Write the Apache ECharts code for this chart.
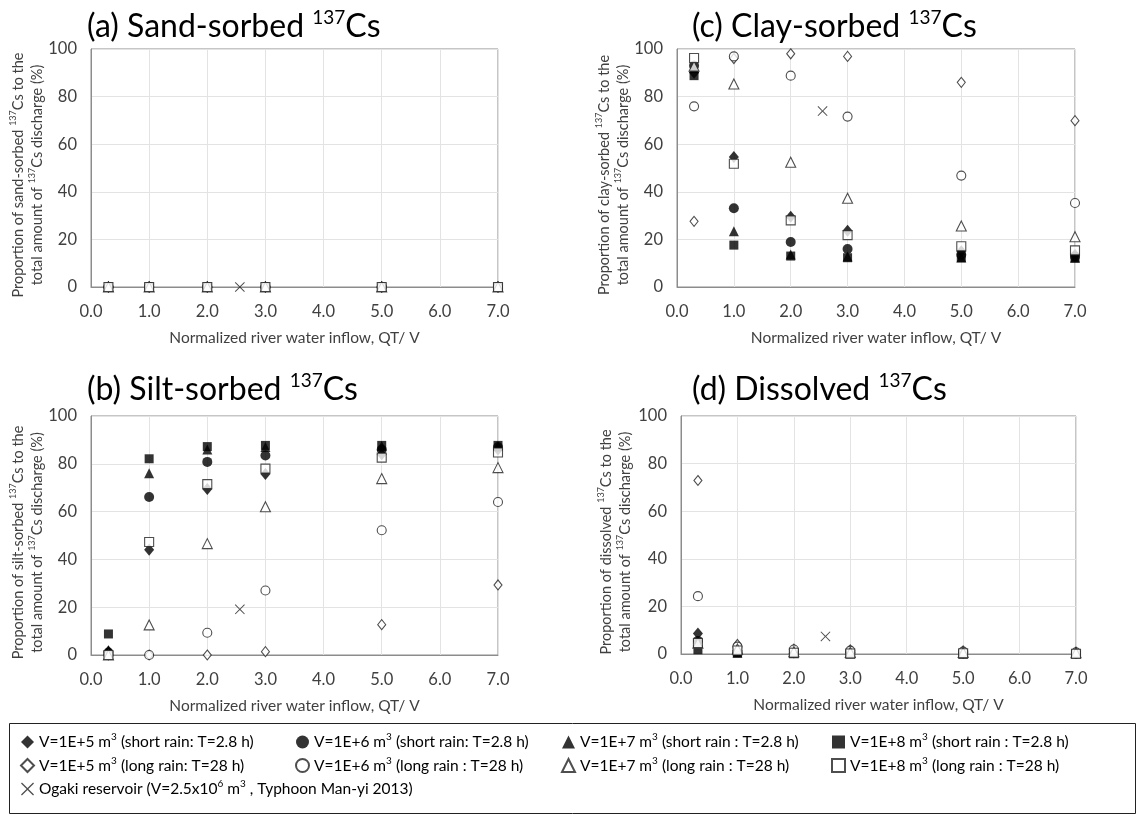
<!DOCTYPE html>
<html>
<head>
<meta charset="utf-8">
<script src="https://cdn.jsdelivr.net/npm/echarts@6/dist/echarts.min.js"></script>
<style>html,body{margin:0;padding:0;background:#fff}#c{width:1143px;height:815px}</style>
</head>
<body>
<div id="c"></div>
<script>
// ---- data ----
const xs = [0.3, 1.0, 2.0, 3.0, 5.0, 7.0];
const xTicks = [0, 1, 2, 3, 4, 5, 6, 7];
const yTicks = [0, 20, 40, 60, 80, 100];
const ogakiX = 2.56;

// (a) sand-sorbed
const sand_s5 = [0, 0, 0, 0, 0, 0];
const sand_s6 = [0, 0, 0, 0, 0, 0];
const sand_s7 = [0, 0, 0, 0, 0, 0];
const sand_s8 = [0, 0, 0, 0, 0, 0];
const sand_l5 = [0, 0, 0, 0, 0, 0];
const sand_l6 = [0, 0, 0, 0, 0, 0];
const sand_l7 = [0, 0, 0, 0, 0, 0];
const sand_l8 = [0, 0, 0, 0, 0, 0];
const sand_og = 0;

// (b) silt-sorbed
const silt_s5 = [1.5, 44, 69.5, 75.7, 84, 86];
const silt_s6 = [1, 66.1, 80.8, 83.5, 86, 87];
const silt_s7 = [2, 76, 86, 87, 87.5, 87.5];
const silt_s8 = [8.8, 82.1, 87.2, 87.7, 87.7, 87.7];
const silt_l5 = [0, 0, 0, 1.4, 12.7, 29.3];
const silt_l6 = [0, 0, 9.3, 27, 52.2, 64];
const silt_l7 = [0, 12.6, 46.6, 62, 73.8, 78.4];
const silt_l8 = [0, 47.3, 71.5, 78, 82.6, 84.7];
const silt_og = 19.1;

// (c) clay-sorbed
const clay_s5 = [90, 54.6, 29.5, 23.6, 15, 13.5];
const clay_s6 = [93, 33.1, 18.9, 16, 13.5, 12.8];
const clay_s7 = [92, 23.4, 13.7, 12.8, 12.4, 12.3];
const clay_s8 = [88.8, 17.6, 13, 12.3, 12.3, 12.2];
const clay_l5 = [27.6, 96, 98, 96.9, 86, 69.9];
const clay_l6 = [75.9, 96.9, 88.8, 71.6, 46.8, 35.3];
const clay_l7 = [92.8, 85.3, 52.4, 37.3, 25.6, 21.1];
const clay_l8 = [96.2, 51.8, 28, 21.8, 17.1, 15.4];
const clay_og = 73.9;

// (d) dissolved
const diss_s5 = [8.6, 1.4, 1.0, 0.7, 0.5, 0.4];
const diss_s6 = [5.5, 0.8, 0.3, 0.5, 0.5, 0.2];
const diss_s7 = [5.0, 0.6, 0.3, 0.2, 0.1, 0.2];
const diss_s8 = [1.8, 0.3, 0.2, 0.1, 0.1, 0.1];
const diss_l5 = [72.9, 4.0, 2.0, 1.7, 1.3, 0.8];
const diss_l6 = [24.3, 3.1, 1.9, 1.4, 1.0, 0.7];
const diss_l7 = [4.5, 2.1, 1.0, 0.7, 0.6, 0.5];
const diss_l8 = [4.6, 1.5, 0.5, 0.2, 0.3, 0.1];
const diss_og = 7.4;

const seriesKeys = ['s5', 's6', 's7', 's8', 'l5', 'l6', 'l7', 'l8'];
const legendLabels = {
  s5: 'V=1E+5 m{sup|3} (short rain: T=2.8 h)',
  s6: 'V=1E+6 m{sup|3} (short rain: T=2.8 h)',
  s7: 'V=1E+7 m{sup|3} (short rain : T=2.8 h)',
  s8: 'V=1E+8 m{sup|3} (short rain : T=2.8 h)',
  l5: 'V=1E+5 m{sup|3} (long rain: T=28 h)',
  l6: 'V=1E+6 m{sup|3} (long rain : T=28 h)',
  l7: 'V=1E+7 m{sup|3} (long rain : T=28 h)',
  l8: 'V=1E+8 m{sup|3} (long rain : T=28 h)',
  og: 'Ogaki reservoir (V=2.5x10{sup|6} m{sup|3} , Typhoon Man-yi 2013)'
};

const panels = [
  {vals: {s5: sand_s5, s6: sand_s6, s7: sand_s7, s8: sand_s8, l5: sand_l5, l6: sand_l6, l7: sand_l7, l8: sand_l8}, og: sand_og,
   title: '(a) Sand-sorbed ', yname: 'sand-sorbed ', grid: {left: 91, top: 49, width: 407, height: 238}, tpos: {left: 87, top: 8}, gap: 43},
  {vals: {s5: silt_s5, s6: silt_s6, s7: silt_s7, s8: silt_s8, l5: silt_l5, l6: silt_l6, l7: silt_l7, l8: silt_l8}, og: silt_og,
   title: '(b) Silt-sorbed ', yname: 'silt-sorbed ', grid: {left: 91, top: 416, width: 407, height: 239}, tpos: {left: 87, top: 371}, gap: 43},
  {vals: {s5: clay_s5, s6: clay_s6, s7: clay_s7, s8: clay_s8, l5: clay_l5, l6: clay_l6, l7: clay_l7, l8: clay_l8}, og: clay_og,
   title: '(c) Clay-sorbed ', yname: 'clay-sorbed ', grid: {left: 677, top: 49, width: 398, height: 238}, tpos: {left: 692, top: 8}, gap: 42},
  {vals: {s5: diss_s5, s6: diss_s6, s7: diss_s7, s8: diss_s8, l5: diss_l5, l6: diss_l6, l7: diss_l7, l8: diss_l8}, og: diss_og,
   title: '(d) Dissolved ', yname: 'dissolved ', grid: {left: 681, top: 416, width: 395, height: 238}, tpos: {left: 692, top: 371}, gap: 46}
];

// ---- styles ----
const FONT = 'Lato';
const INK = '#000';
const AX = '#404040';
const styleOf = {
  s5: {symbol: 'diamond', symbolSize: [10, 12], itemStyle: {color: INK, borderWidth: 0}},
  s6: {symbol: 'circle', symbolSize: 10, itemStyle: {color: INK, borderWidth: 0}},
  s7: {symbol: 'triangle', symbolSize: 10, itemStyle: {color: INK, borderWidth: 0}},
  s8: {symbol: 'rect', symbolSize: 9, itemStyle: {color: INK, borderWidth: 0}},
  l5: {symbol: 'diamond', symbolSize: [8, 10], itemStyle: {color: '#fff', borderColor: '#222', borderWidth: 1.1}},
  l6: {symbol: 'circle', symbolSize: 9, itemStyle: {color: '#fff', borderColor: '#222', borderWidth: 1.1}},
  l7: {symbol: 'triangle', symbolSize: 10, itemStyle: {color: '#fff', borderColor: '#222', borderWidth: 1.1}},
  l8: {symbol: 'rect', symbolSize: 9, itemStyle: {color: '#fff', borderColor: '#222', borderWidth: 1.1}},
  og: {symbol: 'path://M0,0.7L0.7,0L5,4.3L9.3,0L10,0.7L5.7,5L10,9.3L9.3,10L5,5.7L0.7,10L0,9.3L4.3,5Z', symbolSize: 10, itemStyle: {color: '#222'}}
};

const grids = [], xAxes = [], yAxes = [], titles = [], series = [];
panels.forEach((p, gi) => {
  grids.push(Object.assign({show: true, borderColor: '#8c8c8c', borderWidth: 1, backgroundColor: 'transparent'}, p.grid));
  xAxes.push({
    gridIndex: gi, type: 'value', min: xTicks[0], max: xTicks[xTicks.length - 1], interval: 1,
    name: 'Normalized river water inflow, QT/ V', nameLocation: 'middle', nameGap: 43,
    nameTextStyle: {fontFamily: FONT, fontSize: 15.5, color: AX},
    axisLine: {show: true, lineStyle: {color: '#8c8c8c'}}, axisTick: {show: false},
    axisLabel: {fontFamily: FONT, fontSize: 16.5, color: AX, margin: 16, formatter: v => v.toFixed(1)},
    splitLine: {show: true, lineStyle: {color: '#e3e3e3'}}
  });
  yAxes.push({
    gridIndex: gi, type: 'value', min: yTicks[0], max: yTicks[yTicks.length - 1], interval: 20,
    name: '{t|Proportion of ' + p.yname + '}{s|137}{t|Cs to the}\n{t|total amount of }{s|137}{t|Cs discharge (%)}',
    nameLocation: 'middle', nameRotate: 90, nameGap: p.gap,
    nameTextStyle: {padding: [0, 14, 0, 0], rich: {
      t: {fontFamily: FONT, fontSize: 14.5, color: AX, lineHeight: 19},
      s: {fontFamily: FONT, fontSize: 9, color: AX, verticalAlign: 'top', lineHeight: 12}
    }},
    axisLine: {show: true, lineStyle: {color: '#8c8c8c'}}, axisTick: {show: false},
    axisLabel: {fontFamily: FONT, fontSize: 16.5, color: AX, margin: 14},
    splitLine: {show: true, lineStyle: {color: '#e3e3e3'}}
  });
  titles.push({
    text: '{t|' + p.title + '}{s|137}{t|Cs}',
    left: p.tpos.left, top: p.tpos.top, padding: 0,
    textStyle: {rich: {
      t: {fontFamily: FONT, fontSize: 32, color: INK, fontWeight: 'normal', lineHeight: 38},
      s: {fontFamily: FONT, fontSize: 19, color: INK, fontWeight: 'normal', verticalAlign: 'top', lineHeight: 26}
    }}
  });
  seriesKeys.forEach(k => {
    series.push(Object.assign({
      name: k, type: 'scatter', xAxisIndex: gi, yAxisIndex: gi,
      data: xs.map((x, i) => [x, p.vals[k][i]]), silent: true, animation: false
    }, styleOf[k]));
  });
  series.push(Object.assign({
    name: 'og', type: 'scatter', xAxisIndex: gi, yAxisIndex: gi,
    data: [[ogakiX, p.og]], silent: true, animation: false
  }, styleOf.og));
});

const legendCols = [['s5', 'l5', 'og'], ['s6', 'l6'], ['s7', 'l7'], ['s8', 'l8']];
const legendLeft = [20, 295, 561, 831];
const legends = legendCols.map((col, ci) => ({
  data: col, orient: 'vertical', left: legendLeft[ci], top: 732, padding: 0,
  itemGap: 3.5, itemWidth: 13, itemHeight: 13, selectedMode: false,
  formatter: n => legendLabels[n],
  textStyle: {fontFamily: FONT, fontSize: 15.5, color: INK, lineHeight: 20,
    rich: {sup: {fontSize: 10, verticalAlign: 'top', fontFamily: FONT, color: INK, lineHeight: 13}}}
}));

const chart = echarts.init(document.getElementById('c'), null, {renderer: 'canvas'});
chart.setOption({
  animation: false,
  backgroundColor: '#fff',
  title: titles,
  grid: grids,
  xAxis: xAxes,
  yAxis: yAxes,
  legend: legends,
  series: series,
  graphic: [{type: 'rect', shape: {x: 9.5, y: 723.5, width: 1126, height: 90}, style: {fill: 'none', stroke: '#222', lineWidth: 1}, silent: true}]
});
</script>
</body>
</html>
